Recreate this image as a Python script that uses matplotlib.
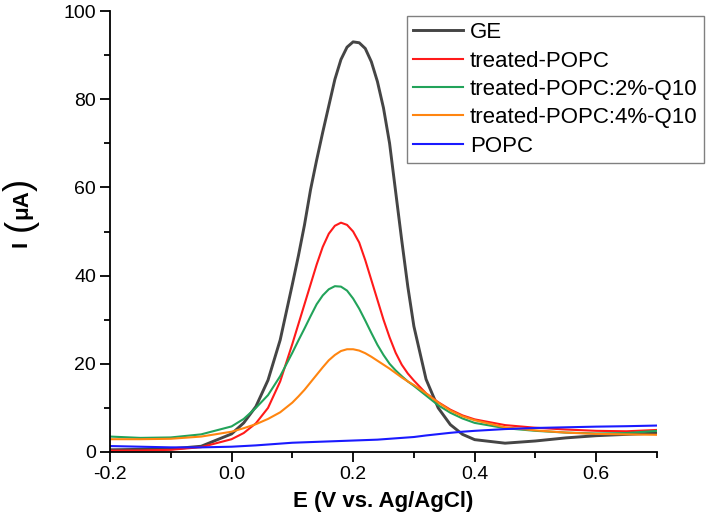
import matplotlib
matplotlib.use("Agg")
import matplotlib.pyplot as plt
from matplotlib.ticker import MultipleLocator

plt.rcParams['font.family'] = ['Liberation Sans', 'DejaVu Sans']

# potential (V vs. Ag/AgCl)
E = [-0.2, -0.15, -0.1, -0.05, 0.0, 0.02, 0.04, 0.06, 0.08, 0.10,
     0.11, 0.12, 0.13, 0.14, 0.15, 0.16, 0.17, 0.18, 0.19, 0.20,
     0.21, 0.22, 0.23, 0.24, 0.25, 0.26, 0.27, 0.28, 0.29, 0.30,
     0.32, 0.34, 0.36, 0.38, 0.40, 0.45, 0.50, 0.55, 0.60, 0.65, 0.70]

# current (uA)
ge = [0.5, 0.6, 0.7, 1.3, 4.1, 6.6, 10.3, 16.3, 25.4, 38.0,
      44.5, 51.5, 59.5, 66.2, 72.5, 78.5, 84.5, 89.0, 91.8, 93.0,
      92.8, 91.5, 88.5, 84.0, 78.0, 70.0, 59.0, 48.0, 37.5, 28.5,
      16.5, 10.0, 6.2, 4.0, 2.8, 2.0, 2.5, 3.2, 3.7, 4.0, 4.3]
treated = [0.3, 0.35, 0.5, 1.1, 2.9, 4.3, 6.5, 10.0, 16.0, 24.5,
           29.0, 33.5, 38.0, 42.5, 46.5, 49.5, 51.3, 52.0, 51.5, 50.0,
           47.5, 43.5, 39.0, 34.5, 30.0, 26.0, 22.5, 19.8, 17.8, 16.2,
           13.3, 11.3, 9.6, 8.3, 7.4, 6.1, 5.5, 5.1, 4.8, 4.7, 5.0]
q10_2 = [3.5, 3.2, 3.3, 4.0, 5.8, 7.5, 10.0, 12.9, 17.2, 22.5,
         25.3, 28.0, 30.8, 33.5, 35.5, 36.9, 37.6, 37.5, 36.6, 34.8,
         32.5, 29.8, 27.0, 24.3, 22.0, 20.0, 18.5, 17.2, 16.0, 15.0,
         12.8, 10.6, 8.9, 7.6, 6.6, 5.4, 4.8, 4.4, 4.2, 4.3, 4.8]
q10_4 = [2.9, 2.9, 3.0, 3.5, 4.6, 5.4, 6.3, 7.5, 9.0, 11.2,
         12.6, 14.1, 15.8, 17.5, 19.2, 20.8, 22.0, 22.9, 23.3, 23.3,
         23.0, 22.4, 21.6, 20.7, 19.8, 18.9, 17.9, 16.9, 16.0, 15.2,
         13.3, 11.2, 9.4, 8.1, 7.2, 5.6, 4.9, 4.4, 4.1, 4.0, 3.9]
popc = [1.35, 1.2, 1.05, 1.05, 1.2, 1.35, 1.5, 1.7, 1.9, 2.1,
        2.15, 2.2, 2.25, 2.3, 2.35, 2.4, 2.45, 2.5, 2.55, 2.6,
        2.65, 2.7, 2.75, 2.8, 2.9, 3.0, 3.1, 3.2, 3.3, 3.4,
        3.75, 4.05, 4.35, 4.6, 4.8, 5.2, 5.45, 5.6, 5.75, 5.85, 6.0]

labels = ['GE', 'treated-POPC', 'treated-POPC:2%-Q10', 'treated-POPC:4%-Q10', 'POPC']
colors = ['#454545', '#ff1a1a', '#22a35a', '#ff8510', '#1a1aff']
series = [ge, treated, q10_2, q10_4, popc]

fig = plt.figure(figsize=(7.08, 5.21), dpi=100)
ax = fig.add_axes([110 / 708, 1 - 452 / 521, 547 / 708, 441 / 521])

for ys, lab, c in zip(series, labels, colors):
    ax.plot(E, ys, color=c, lw=2.1 if lab == 'GE' else 1.5, label=lab)

ax.set_xlim(-0.2, 0.7)
ax.set_ylim(0, 100)
ax.xaxis.set_minor_locator(MultipleLocator(0.1))
ax.yaxis.set_major_locator(MultipleLocator(20))
ax.yaxis.set_minor_locator(MultipleLocator(10))
ax.set_xticks([-0.2, 0.0, 0.2, 0.4, 0.6])
ax.set_xticklabels(['-0.2', '0.0', '0.2', '0.4', '0.6'])

for s in ['top', 'right']:
    ax.spines[s].set_visible(False)
for s in ['left', 'bottom']:
    ax.spines[s].set_linewidth(1.3)
ax.tick_params(which='major', direction='out', length=7, width=1.3, labelsize=14, pad=3)
ax.tick_params(which='minor', direction='out', length=4, width=1.3)

ax.set_xlabel('E (V vs. Ag/AgCl)', fontsize=16, fontweight='bold', labelpad=6)

# y label with tall parentheses
fig.text(21 / 708, 1 - 244 / 521, 'I', rotation=90, fontsize=16, fontweight='bold',
         ha='center', va='center')
fig.text(20 / 708, 1 - 225 / 521, '(', rotation=90, fontsize=26,
         ha='center', va='center')
fig.text(22 / 708, 1 - 204 / 521, 'μA', rotation=90, fontsize=16, fontweight='bold',
         ha='center', va='center')
fig.text(20 / 708, 1 - 185 / 521, ')', rotation=90, fontsize=26,
         ha='center', va='center')

leg = ax.legend(loc='upper left', bbox_to_anchor=(407 / 708, 1 - 16 / 521),
                bbox_transform=fig.transFigure, fontsize=16, frameon=True,
                fancybox=False, edgecolor='#808080', framealpha=1,
                borderaxespad=0, borderpad=0.28, handlelength=2.25,
                handletextpad=0.3, labelspacing=0.33)
leg.get_frame().set_linewidth(1.0)

plt.savefig('out.png', dpi=100)
plt.close()
